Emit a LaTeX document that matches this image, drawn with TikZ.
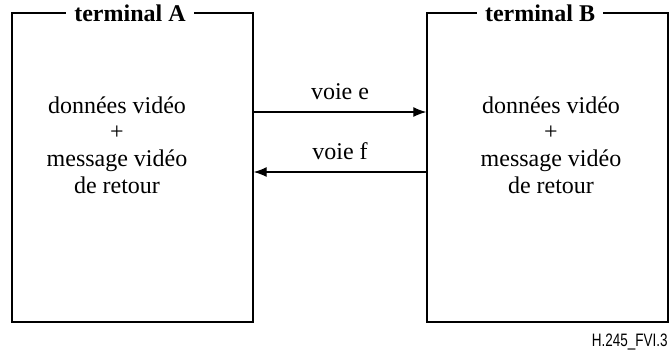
\documentclass[tikz,border=0pt]{standalone}
\usepackage{fontspec}
\setmainfont{Liberation Serif}
\newfontfamily\codefont{Liberation Sans}
\usetikzlibrary{arrows.meta}

\tikzset{
  terminal/.style={draw, line width=0.7pt, inner sep=0pt,
    minimum width=120.5pt, minimum height=154.5pt},
  titre/.style={fill=white, inner xsep=4pt, inner ysep=1pt,
    font=\fontsize{12}{14}\selectfont\bfseries},
  contenu/.style={align=center, font=\fontsize{12}{13.4}\selectfont},
  voie/.style={anchor=base, yshift=6.5pt, font=\fontsize{12}{14}\selectfont},
  fleche/.style={-{Latex[length=6.5pt,width=5pt]}, line width=0.6pt},
}

\begin{document}
\begin{tikzpicture}[x=0.5pt, y=-0.5pt]
	\useasboundingbox (0,0) rectangle (669,350);
	% les deux terminaux
	\node[terminal] (termA) at (132.5,167.5) {};
	\node[terminal] (termB) at (547.5,167.5) {};
	\node[titre] (titreA) at (130,13) {terminal A};
	\node[titre] (titreB) at (540,13) {terminal B\ };
	\node[contenu] (texteA) at (117,145) {données vidéo\\+\\message vidéo\\de retour};
	\node[contenu] (texteB) at (551,145) {données vidéo\\+\\message vidéo\\de retour};
	% les voies
	\coordinate (ye) at (340,112);
	\coordinate (yf) at (340,172);
	\draw[fleche] (termA.east |- ye) -- (termB.west |- ye)
		node[voie, midway] (voieE) {voie e};
	\draw[fleche] (termB.west |- yf) -- (termA.east |- yf)
		node[voie, midway] (voieF) {voie f};
	\node[anchor=east, inner sep=0pt] (ref) at (668,342)
		{\scalebox{0.75}[1]{\codefont\fontsize{9}{10}\selectfont H.245\_FVI.3}};
\end{tikzpicture}
\end{document}
